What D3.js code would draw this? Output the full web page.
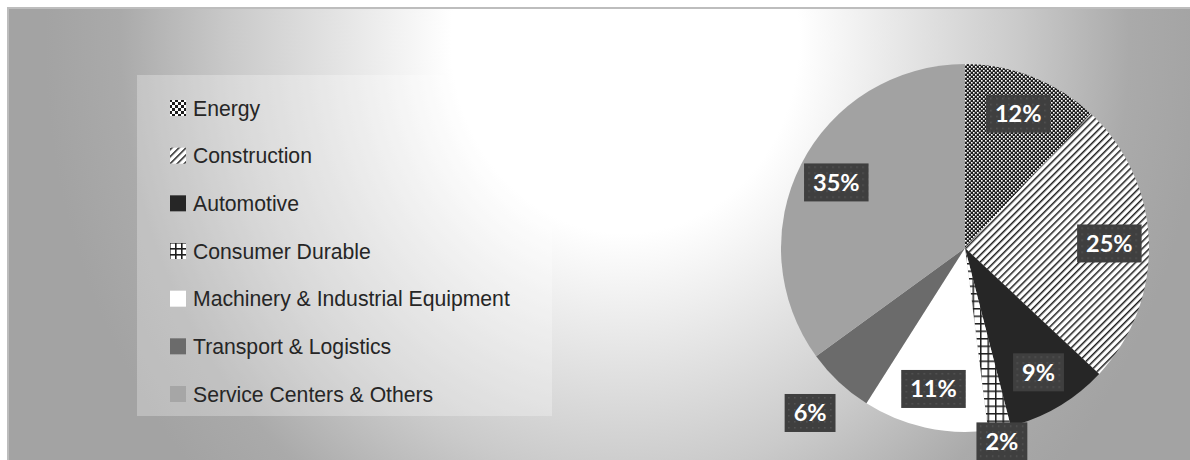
<!DOCTYPE html>
<html><head><meta charset="utf-8">
<script src="https://cdn.jsdelivr.net/npm/d3@7"></script>
<style>html,body{margin:0;padding:0;background:#fff;overflow:hidden;}svg{display:block;}</style>
</head><body>
<svg id="c" width="1300" height="600"></svg>
<script>
const categories = ["Energy","Construction","Automotive","Consumer Durable","Machinery & Industrial Equipment","Transport & Logistics","Service Centers & Others"];
const values = [12, 25, 9, 2, 11, 6, 35];
const fills = ["url(#pEnergy)","url(#pConstr)","#262626","url(#pGrid)","#ffffff","#6b6b6b","#a2a2a2"];

const svg = d3.select("#c");
const defs = svg.append("defs");

// background gradient (elliptical)
const g = defs.append("radialGradient").attr("id","bg").attr("gradientUnits","userSpaceOnUse")
  .attr("cx",625).attr("cy",40).attr("r",580)
  .attr("gradientTransform","translate(625,40) scale(1,1.11) translate(-625,-40)");
[[0,"#ffffff"],[0.3,"#ffffff"],[0.68,"#cacaca"],[0.87,"#aaaaaa"],[1,"#a3a3a3"]].forEach(s=>g.append("stop").attr("offset",s[0]).attr("stop-color",s[1]));

// Energy pattern
const pe = defs.append("pattern").attr("id","pEnergy").attr("patternUnits","userSpaceOnUse").attr("width",4).attr("height",4);
pe.append("rect").attr("width",4).attr("height",4).attr("fill","#1e1e1e");
pe.append("rect").attr("x",0).attr("y",0).attr("width",1.6).attr("height",1.6).attr("fill","#fff");
pe.append("rect").attr("x",2).attr("y",2).attr("width",1.6).attr("height",1.6).attr("fill","#fff");
// Construction: upward diagonal
const pc = defs.append("pattern").attr("id","pConstr").attr("patternUnits","userSpaceOnUse").attr("width",5).attr("height",5).attr("patternTransform","rotate(45)");
pc.append("rect").attr("width",5).attr("height",5).attr("fill","#fff");
pc.append("rect").attr("x",0).attr("y",0).attr("width",1.5).attr("height",5).attr("fill","#1e1e1e");
// grid
const pg = defs.append("pattern").attr("id","pGrid").attr("patternUnits","userSpaceOnUse").attr("width",7.5).attr("height",7.5);
pg.append("rect").attr("width",7.5).attr("height",7.5).attr("fill","#fff");
pg.append("rect").attr("x",0).attr("y",0).attr("width",1.5).attr("height",7.5).attr("fill","#1e1e1e");
pg.append("rect").attr("x",0).attr("y",0).attr("width",7.5).attr("height",1.5).attr("fill","#1e1e1e");
// legend swatch patterns
const pl = defs.append("pattern").attr("id","pLEnergy").attr("patternUnits","userSpaceOnUse").attr("width",6).attr("height",6).attr("x",170);
pl.append("rect").attr("width",6).attr("height",6).attr("fill","#fff");
pl.append("rect").attr("x",0).attr("y",0).attr("width",3).attr("height",3).attr("fill","#1e1e1e");
pl.append("rect").attr("x",3).attr("y",3).attr("width",3).attr("height",3).attr("fill","#1e1e1e");
const plg = defs.append("pattern").attr("id","pLGrid").attr("patternUnits","userSpaceOnUse").attr("width",6).attr("height",6).attr("x",173).attr("y",3);
plg.append("rect").attr("width",6).attr("height",6).attr("fill","#fff");
plg.append("rect").attr("x",0).attr("y",0).attr("width",1.6).attr("height",6).attr("fill","#1e1e1e");
plg.append("rect").attr("x",0).attr("y",0).attr("width",6).attr("height",1.6).attr("fill","#1e1e1e");
// label box dots
const pd = defs.append("pattern").attr("id","pDots").attr("patternUnits","userSpaceOnUse").attr("width",6).attr("height",6);
pd.append("rect").attr("width",6).attr("height",6).attr("fill","#3f3f3f");
pd.append("rect").attr("x",2).attr("y",2).attr("width",1.5).attr("height",1.5).attr("fill","#555");

// chart area (extends past the right and bottom edges)
svg.append("rect").attr("x",8).attr("y",8).attr("width",1300).attr("height",600).attr("fill","url(#bg)");
svg.append("path").attr("d","M8,1300 L8,8 L1300,8").attr("fill","none").attr("stroke","#bdbdbd").attr("stroke-width",2);

// legend
const legendFills = ["url(#pLEnergy)","url(#pConstr)","#262626","url(#pLGrid)","#ffffff","#6b6b6b","#a6a6a6"];
const lg = svg.append("g");
lg.append("rect").attr("x",137).attr("y",75).attr("width",415).attr("height",341)
  .attr("fill","#ffffff").attr("fill-opacity",0.28);
const ly = d3.scalePoint().domain(categories).range([108,394]);
const items = lg.selectAll("g.it").data(categories).join("g").attr("class","it")
  .attr("transform",d=>`translate(170,${ly(d)})`);
items.append("rect").attr("x",0).attr("y",-8).attr("width",16).attr("height",16)
  .attr("fill",(d,i)=>legendFills[i]);
items.append("text").attr("x",23).attr("y",7.5).text(d=>d)
  .attr("font-family","Liberation Sans, Arial, sans-serif").attr("font-size",21.2).attr("fill","#262626");

// pie
const cx = 965, cy = 248, R = 184;
const pie = d3.pie().sort(null).value(d=>d.v);
const arcs = pie(values.map((v,i)=>({v, name:categories[i], i})));
const arc = d3.arc().innerRadius(0).outerRadius(R);
const pg2 = svg.append("g").attr("transform",`translate(${cx},${cy})`);
pg2.selectAll("path").data(arcs).join("path").attr("d",arc).attr("fill",d=>fills[d.data.i]);

// labels
const lbl = pg2.selectAll("g.lbl").data(arcs).join("g").attr("class","lbl")
  .attr("transform",d=>{
    const a=(d.startAngle+d.endAngle)/2;
    const v=d.data.v;
    const k = v<=2 ? 1.07 : (v<=6 ? 1.23 : 0.785);
    return `translate(${Math.sin(a)*R*k},${-Math.cos(a)*R*k})`;
  });
lbl.each(function(d){
  const s=d3.select(this);
  const t=s.append("text").text(d.data.v+"%").attr("text-anchor","middle").attr("y",8.5)
    .attr("font-family","Lato, 'Open Sans', sans-serif").attr("font-weight","bold").attr("font-size",23.5).attr("fill","#fff");
  const w=t.node().getComputedTextLength();
  s.insert("rect","text").attr("x",-w/2-9).attr("y",-19).attr("width",w+18).attr("height",38).attr("fill","url(#pDots)");
});
</script>
</body></html>
